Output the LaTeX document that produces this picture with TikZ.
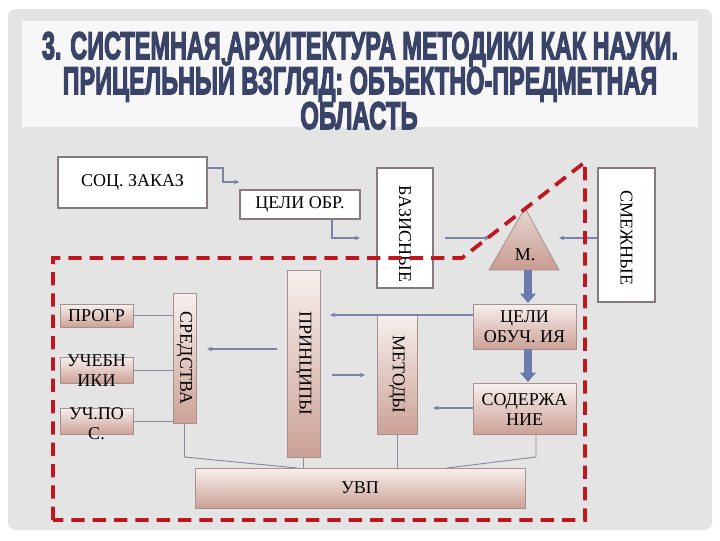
\documentclass[tikz,border=0pt]{standalone}
\usepackage{fontspec}
\setmainfont{Liberation Serif}
\newfontfamily\titlefont[FakeBold=4]{Liberation Sans}
\usetikzlibrary{arrows.meta,shapes.geometric}
\definecolor{slidegray}{HTML}{E4E4E4}
\definecolor{panel}{HTML}{F7F7F7}
\definecolor{titleblue}{HTML}{3A4468}
\definecolor{boxborder}{HTML}{857A80}
\definecolor{gradborder}{HTML}{A89090}
\definecolor{gradtop}{HTML}{F7F0EE}
\definecolor{gradbot}{HTML}{CCA196}
\definecolor{tritop}{HTML}{E8D6D1}
\definecolor{tribot}{HTML}{C89C92}
\definecolor{conncol}{HTML}{7C82A8}
\definecolor{thincol}{HTML}{8A8A98}
\definecolor{dashred}{HTML}{C0161E}
\definecolor{thickfill}{HTML}{6B7BAE}
\definecolor{thickedge}{HTML}{4A5788}
\tikzset{
  whitebox/.style={draw=boxborder, line width=1.1pt, fill=white, inner sep=0pt},
  gradbox/.style={draw=gradborder, line width=0.7pt, top color=gradtop, bottom color=gradbot, inner sep=0pt},
  txt/.style={font=\fontsize{13.5pt}{15pt}\selectfont, align=center, inner sep=0pt, text=black},
  conn/.style={draw=conncol, line width=1pt},
  connarrow/.style={conn, -{Stealth[length=4pt,width=3.5pt]}},
  thinline/.style={draw=thincol, line width=0.7pt},
  thickarrow/.style={draw=thickfill, line width=6pt, -{Triangle[length=7pt,width=11.5pt]}},
  reddash/.style={draw=dashred, line width=2.8pt, dash pattern=on 10pt off 6pt},
  titlest/.style={anchor=base, inner sep=0pt, text=titleblue}
}
\begin{document}
\begin{tikzpicture}[x=0.75pt,y=-0.75pt]
\useasboundingbox (0,0) rectangle (720,540);
\fill[white] (0,0) rectangle (720,540);
\fill[slidegray, rounded corners=6pt] (8,9) rectangle (712,530);
\fill[panel] (22,21) rectangle (698,127);
% title
\node[titlest] (t1) at (360,59) {\resizebox{477pt}{\height}{\fontsize{29pt}{30pt}\titlefont\bfseries 3. СИСТЕМНАЯ АРХИТЕКТУРА МЕТОДИКИ КАК НАУКИ.}};
\node[titlest] (t2) at (360,94) {\resizebox{446pt}{\height}{\fontsize{29pt}{30pt}\titlefont\bfseries ПРИЦЕЛЬНЫЙ ВЗГЛЯД: ОБЪЕКТНО-ПРЕДМЕТНАЯ}};
\node[titlest] (t3) at (359,129) {\resizebox{88pt}{\height}{\fontsize{29pt}{30pt}\titlefont\bfseries ОБЛАСТЬ}};
% white boxes
\node[whitebox, minimum width=149*0.75pt, minimum height=51*0.75pt] (soc) at (132.5,182.5) {};
\node[txt] (soctxt) at (soc.center) {СОЦ. ЗАКАЗ};
\node[whitebox, minimum width=120*0.75pt, minimum height=29*0.75pt] (celi) at (300,204.5) {};
\node[txt] (celitxt) at (celi.center) {ЦЕЛИ ОБР.};
\node[whitebox, minimum width=56*0.75pt, minimum height=120*0.75pt] (baz) at (405,228) {};
\node[txt, rotate=-90] (baztxt) at (405,234) {БАЗИСНЫЕ};
\node[whitebox, minimum width=57*0.75pt, minimum height=134*0.75pt] (smezh) at (626.5,235) {};
\node[txt, rotate=-90] (smezhtxt) at (626.5,238) {СМЕЖНЫЕ};
% triangle M
\coordinate (mtop) at (525,208);
\coordinate (mleft) at (489,270);
\coordinate (mright) at (559,270);
\shade[top color=tritop, bottom color=tribot, draw=gradborder, line width=0.6pt] (mtop) -- (mright) -- (mleft) -- cycle;
\node[txt] (mtxt) at (525,255) {М.};
% gradient boxes
\node[gradbox, minimum width=73*0.75pt, minimum height=23*0.75pt] (progr) at (96.5,315.5) {};
\node[txt] (progrtxt) at (progr.center) {ПРОГР};
\node[gradbox, minimum width=73*0.75pt, minimum height=26*0.75pt] (ucheb) at (96.5,370) {};
\node[txt] (uchebtxt) at (96.5,371) {УЧЕБН\\ИКИ};
\node[gradbox, minimum width=73*0.75pt, minimum height=26*0.75pt] (uchpos) at (96.5,421) {};
\node[txt] (uchpostxt) at (96.5,424) {УЧ.ПО\\С.};
\node[gradbox, minimum width=23*0.75pt, minimum height=130*0.75pt] (sred) at (184.5,358) {};
\node[txt, rotate=-90] (sredtxt) at (sred.center) {СРЕДСТВА};
\node[gradbox, minimum width=33*0.75pt, minimum height=187*0.75pt] (princ) at (303.5,363.5) {};
\node[txt, rotate=-90] (princtxt) at (princ.center) {ПРИНЦИПЫ};
\node[gradbox, minimum width=40*0.75pt, minimum height=119*0.75pt] (metod) at (397,374.5) {};
\node[txt, rotate=-90] (metodtxt) at (metod.center) {МЕТОДЫ};
\node[gradbox, minimum width=103*0.75pt, minimum height=45*0.75pt] (celiob) at (524.5,326.5) {};
\node[txt] (celiobtxt) at (celiob.center) {ЦЕЛИ\\ОБУЧ. ИЯ};
\node[gradbox, minimum width=103*0.75pt, minimum height=51*0.75pt] (soder) at (524.5,408.5) {};
\node[txt] (sodertxt) at (524.5,409.5) {СОДЕРЖА\\НИЕ};
\node[gradbox, minimum width=330*0.75pt, minimum height=40*0.75pt] (uvp) at (360,488) {};
\node[txt] (uvptxt) at (uvp.center) {УВП};
% connectors
\coordinate (a1) at (223,168);
\coordinate (a2) at (223,182);
\draw[connarrow] (soc.east |- a1) -- (a1) -- (a2) -- (celi.west |- a2);
\coordinate (b1) at (332,238);
\coordinate (b2) at (360,238);
\draw[connarrow] (celi.south -| b1) -- (b1) -- (b2);
\coordinate (c1) at (445,238);
\coordinate (c2) at (490,238);
\draw[connarrow] (c1) -- (c2);
\draw[connarrow] (smezh.west |- c1) -- (mright |- c1);
\draw[thickarrow] (528,270) -- (528,303);
\draw[thickarrow] (528,349) -- (528,382);
\coordinate (d1) at (330,315);
\draw[connarrow] (celiob.west |- d1) -- (d1);
\coordinate (e1) at (332,375);
\coordinate (e2) at (365,375);
\draw[connarrow] (e1) -- (e2);
\coordinate (f1) at (433,408);
\draw[connarrow] (soder.west |- f1) -- (f1);
\coordinate (g1) at (277,349);
\coordinate (g2) at (207,349);
\draw[connarrow] (g1) -- (g2);
\draw[thinline] (progr.east) -- (sred.west |- progr.east);
\draw[thinline] (ucheb.east) -- (sred.west |- ucheb.east);
\draw[thinline] (uchpos.east) -- (sred.west |- uchpos.east);
\coordinate (h1) at (184.5,457);
\coordinate (h2) at (297,468);
\draw[thinline] (sred.south) -- (h1) -- (h2);
\draw[thinline] (princ.south) -- (princ.south |- uvp.north);
\draw[thinline] (metod.south) -- (metod.south |- uvp.north);
\coordinate (k0) at (536,434);
\coordinate (k1) at (536,457);
\coordinate (k2) at (447,468);
\draw[thinline] (k0) -- (k1) -- (k2);
% red dashed region
\coordinate (r1) at (53,258);
\coordinate (r2) at (462,258);
\coordinate (r3) at (585,162);
\coordinate (r4) at (585,520);
\coordinate (r5) at (53,520);
\draw[reddash] (r5) -- (r1) -- (r2) -- (r3) -- (r4) -- (r5);
\end{tikzpicture}
\end{document}
